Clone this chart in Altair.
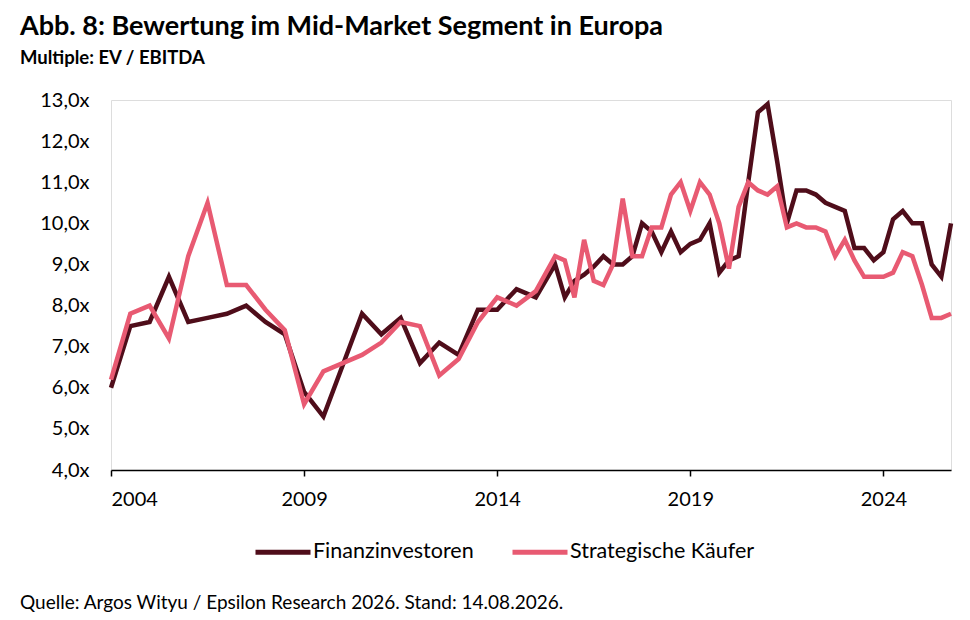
import altair as alt
import pandas as pd

TITLE = "Abb. 8: Bewertung im Mid-Market Segment in Europa"
SUBTITLE = "Multiple: EV / EBITDA"
SOURCE = "Quelle: Argos Wityu / Epsilon Research 2026. Stand: 14.08.2026."
SERIES = ["Finanzinvestoren", "Strategische Käufer"]
COLORS = ["#4f0d1a", "#e85a72"]
X_TICKS = [2004, 2009, 2014, 2019, 2024]
Y_TICKS = [4, 5, 6, 7, 8, 9, 10, 11, 12, 13]

periods = [
    2004.0, 2004.5, 2005.0, 2005.5, 2006.0, 2006.5, 2007.0, 2007.5,
    2008.0, 2008.5, 2009.0, 2009.5, 2010.0, 2010.5, 2011.0, 2011.5,
    2012.0, 2012.5, 2013.0, 2013.5, 2014.0, 2014.5, 2015.0, 2015.5,
    2015.75, 2016.0, 2016.25, 2016.5, 2016.75, 2017.0, 2017.25, 2017.5,
    2017.75, 2018.0, 2018.25, 2018.5, 2018.75, 2019.0, 2019.25, 2019.5,
    2019.75, 2020.0, 2020.25, 2020.5, 2020.75, 2021.0, 2021.25, 2021.5,
    2021.75, 2022.0, 2022.25, 2022.5, 2022.75, 2023.0, 2023.25, 2023.5,
    2023.75, 2024.0, 2024.25, 2024.5, 2024.75, 2025.0, 2025.25, 2025.5,
    2025.75,
]

finanzinvestoren = [
    6.0, 7.5, 7.6, 8.7, 7.6, 7.7, 7.8, 8.0,
    7.6, 7.3, 5.9, 5.3, 6.55, 7.8, 7.3, 7.7,
    6.6, 7.1, 6.8, 7.9, 7.9, 8.4, 8.2, 9.0,
    8.2, 8.6, 8.75, 8.95, 9.2, 9.0, 9.0, 9.2,
    10.0, 9.8, 9.3, 9.8, 9.3, 9.5, 9.6, 10.0,
    8.8, 9.1, 9.2, 11.0, 12.7, 12.9, 11.5, 10.0,
    10.8, 10.8, 10.7, 10.5, 10.4, 10.3, 9.4, 9.4,
    9.1, 9.3, 10.1, 10.3, 10.0, 10.0, 9.0, 8.7,
    10.0,
]

strategische = [
    6.2, 7.8, 8.0, 7.2, 9.2, 10.5, 8.5, 8.5,
    7.9, 7.4, 5.6, 6.4, 6.6, 6.8, 7.1, 7.6,
    7.5, 6.3, 6.7, 7.6, 8.2, 8.0, 8.35, 9.2,
    9.1, 8.2, 9.6, 8.6, 8.5, 9.0, 10.6, 9.2,
    9.2, 9.9, 9.9, 10.7, 11.0, 10.3, 11.0, 10.7,
    10.0, 8.9, 10.4, 11.0, 10.8, 10.7, 10.9, 9.9,
    10.0, 9.9, 9.9, 9.8, 9.2, 9.6, 9.1, 8.7,
    8.7, 8.7, 8.8, 9.3, 9.2, 8.5, 7.7, 7.7,
    7.8,
]

df = pd.DataFrame(
    {
        "Jahr": periods * 2,
        "Multiple": finanzinvestoren + strategische,
        "Serie": [SERIES[0]] * len(periods) + [SERIES[1]] * len(periods),
    }
)

FONT = "Lato"

lines = (
    alt.Chart(df)
    .mark_line(strokeWidth=4.5, strokeJoin="miter")
    .encode(
        x=alt.X(
            "Jahr:Q",
            scale=alt.Scale(domain=[2004, 2025.75], nice=False, zero=False),
            axis=alt.Axis(
                values=X_TICKS,
                format="d",
                title=None,
                grid=False,
                domainColor="#000000",
                domainWidth=1.5,
                tickColor="#000000",
                tickWidth=1.5,
                tickSize=6,
                labelFontSize=20,
                labelColor="#000000",
                labelPadding=13,
                labelFont=FONT,
            ),
        ),
        y=alt.Y(
            "Multiple:Q",
            scale=alt.Scale(domain=[4, 13], nice=False, zero=False),
            axis=alt.Axis(
                values=Y_TICKS,
                labelExpr="replace(format(datum.value, '.1f'), '.', ',') + 'x'",
                title=None,
                grid=False,
                domain=False,
                ticks=False,
                labelFontSize=20,
                labelColor="#000000",
                labelPadding=22,
                labelFont=FONT,
            ),
        ),
        color=alt.Color(
            "Serie:N",
            scale=alt.Scale(domain=SERIES, range=COLORS),
            legend=alt.Legend(
                title=None,
                orient="none",
                legendX=142,
                legendY=422,
                direction="horizontal",
                symbolType="stroke",
                symbolSize=3025,
                symbolStrokeWidth=5,
                labelFontSize=21.5,
                labelFont=FONT,
                labelColor="#000000",
                labelOffset=0,
                labelLimit=0,
                columnPadding=28,
            ),
        ),
        order=alt.Order("Jahr:Q"),
    )
)

source = (
    alt.Chart(alt.Data(values=[{"t": SOURCE}]))
    .mark_text(align="left", baseline="middle", fontSize=19, font=FONT, color="#000000")
    .encode(text="t:N", x=alt.value(-91), y=alt.value(503))
)

chart = (
    alt.layer(lines, source)
    .properties(
        width=840,
        height=370,
        title=alt.TitleParams(
            text=TITLE,
            subtitle=SUBTITLE,
            anchor="start",
            frame="group",
            dx=-91,
            font=FONT,
            fontSize=27,
            fontWeight="bold",
            color="#000000",
            subtitleFont=FONT,
            subtitleFontSize=18.5,
            subtitleFontWeight="bold",
            subtitleColor="#000000",
            subtitlePadding=8,
            offset=22,
        ),
        autosize=alt.AutoSizeParams(type="none"),
        padding={"left": 103, "top": 92, "right": 11, "bottom": 142},
    )
    .configure_view(stroke=None)
    .configure(background="#ffffff")
)

chart.save("out.html", embed_options={"renderer": "svg", "actions": False})
